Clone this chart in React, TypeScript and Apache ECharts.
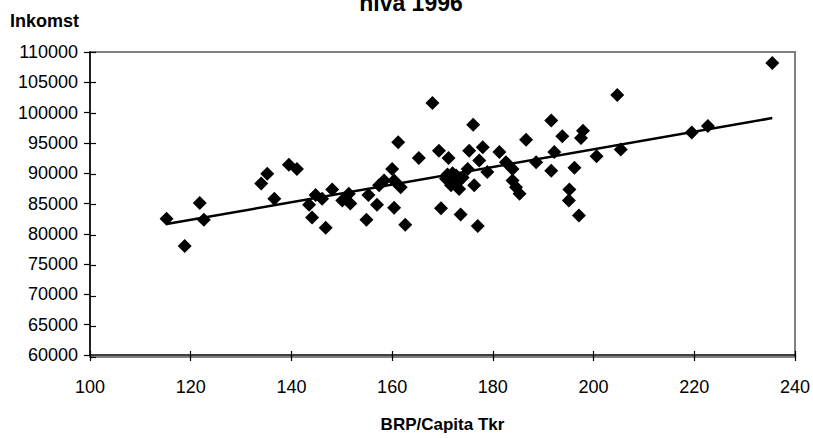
import React, { useEffect, useRef } from "react";
import * as echarts from "echarts";

const brpPerCapita = [
  115.2, 118.8, 121.8, 122.6, 134.0, 135.2, 136.6, 139.5, 141.1, 143.5,
  144.1, 144.8, 146.1, 146.8, 148.1, 150.1, 151.4, 151.7, 154.9, 155.3,
  157.0, 157.4, 158.4, 160.0, 160.4, 160.4, 161.2, 161.7, 162.6, 165.3,
  168.0, 169.3, 169.7, 170.7, 171.2, 171.7, 172.7, 173.3, 173.6, 175.0,
  175.3, 176.1, 176.3, 177.0, 177.3, 178.0, 178.9, 181.3, 182.6, 183.9,
  183.9, 184.6, 185.3, 186.6, 188.6, 191.6, 191.6, 192.2, 193.8, 195.1,
  195.2, 196.2, 197.1, 197.5, 197.9, 200.6, 204.7, 205.4, 219.5, 222.7,
  235.5, 171.0, 172.0, 173.0, 174.0,
];
const inkomst = [
  82500, 78000, 85100, 82300, 88300, 89900, 85800, 91400, 90700, 84800,
  82700, 86400, 85800, 81000, 87300, 85500, 86600, 85000, 82300, 86400,
  84800, 88000, 88800, 90700, 88800, 84300, 95100, 87700, 81500, 92500,
  101600, 93700, 84200, 89100, 92500, 88000, 89600, 87400, 83200, 90700,
  93700, 98000, 88000, 81300, 92100, 94300, 90200, 93500, 91800, 90700,
  88800, 87700, 86600, 95500, 91800, 98700, 90400, 93500, 96100, 85500,
  87300, 90900, 83000, 95800, 97000, 92800, 102900, 93900, 96700, 97800,
  108200, 89800, 90000, 88500, 89300,
];
const trendX = [115.2, 235.5];
const trendY = [81600, 99100];

const xMin = 100, xMax = 240, xStep = 20;
const yMin = 60000, yMax = 110000, yStep = 5000;

const titleText = "niva 1996";
const yTitle = "Inkomst";
const xTitle = "BRP/Capita Tkr";

const FONT = "Liberation Sans, Arial, sans-serif";

export default function App() {
  const ref = useRef<HTMLDivElement>(null);
  useEffect(() => {
    if (!ref.current) return;
    const chart = echarts.init(ref.current, null, { renderer: "svg" });
    const W = 813, H = 438;
    const g = { left: 90, top: 52, right: 18, bottom: 81 };
    const pw = W - g.left - g.right;
    const ph = H - g.top - g.bottom;
    const points = brpPerCapita.map((x, i) => [x, inkomst[i]]);
    const trend = trendX.map((x, i) => [x, trendY[i]]);
    const fmt = (v: number) => String(v);
    chart.setOption({
      animation: false,
      backgroundColor: "#ffffff",
      textStyle: { fontFamily: FONT },
      grid: [
        { ...g, show: false },
        { ...g, show: false },
      ],
      xAxis: [
        {
          type: "value", gridIndex: 0, min: xMin, max: xMax, interval: xStep,
          axisLine: { show: true, onZero: false, lineStyle: { color: "#000", width: 1.5 } },
          axisTick: { show: true, inside: false, length: 6, lineStyle: { color: "#000", width: 1.2 } },
          axisLabel: { color: "#000", fontSize: 18, fontFamily: FONT, margin: 23, formatter: fmt },
          splitLine: { show: false },
          name: xTitle, nameLocation: "middle", nameGap: 61,
          nameTextStyle: { color: "#000", fontSize: 17, fontWeight: "bold", fontFamily: FONT, verticalAlign: "top" },
        },
        {
          type: "value", gridIndex: 1, min: xMin, max: xMax, interval: xStep,
          axisLine: { show: false, onZero: false },
          axisTick: { show: true, inside: true, length: 6, lineStyle: { color: "#000", width: 1.2 } },
          axisLabel: { show: false },
          splitLine: { show: false },
        },
      ],
      yAxis: [
        {
          type: "value", gridIndex: 0, min: yMin, max: yMax, interval: yStep,
          axisLine: { show: true, onZero: false, lineStyle: { color: "#000", width: 1.5 } },
          axisTick: { show: true, inside: false, length: 6, lineStyle: { color: "#000", width: 1.2 } },
          axisLabel: { color: "#000", fontSize: 18, fontFamily: FONT, margin: 12, formatter: fmt },
          splitLine: { show: false },
        },
        {
          type: "value", gridIndex: 1, min: yMin, max: yMax, interval: yStep,
          axisLine: { show: false, onZero: false },
          axisTick: { show: true, inside: true, length: 6, lineStyle: { color: "#000", width: 1.2 } },
          axisLabel: { show: false },
          splitLine: { show: false },
        },
      ],
      graphic: [
        {
          type: "rect", z: -1, silent: true,
          shape: { x: g.left, y: g.top, width: pw, height: ph },
          style: { fill: "#ffffff", stroke: "#808080", lineWidth: 2 },
        },
        {
          type: "text", x: 411, y: 3,
          style: { text: titleText, fill: "#000", font: `bold 23px ${FONT}`, textAlign: "center", textVerticalAlign: "middle" },
        },
        {
          type: "text", x: 10, y: 21,
          style: { text: yTitle, fill: "#000", font: `bold 18px ${FONT}`, textAlign: "left", textVerticalAlign: "middle" },
        },
      ],
      series: [
        {
          type: "line", xAxisIndex: 0, yAxisIndex: 0, data: trend,
          symbol: "none", lineStyle: { color: "#000", width: 2.5 }, z: 2,
        },
        {
          type: "scatter", xAxisIndex: 0, yAxisIndex: 0, data: points,
          symbol: "diamond", symbolSize: 14,
          itemStyle: { color: "#000", opacity: 1 }, z: 3,
        },
      ],
    });
    return () => chart.dispose();
  }, []);
  return (
    <div
      ref={ref}
      style={{ position: "fixed", left: 0, top: 0, width: 813, height: 438 }}
    />
  );
}
